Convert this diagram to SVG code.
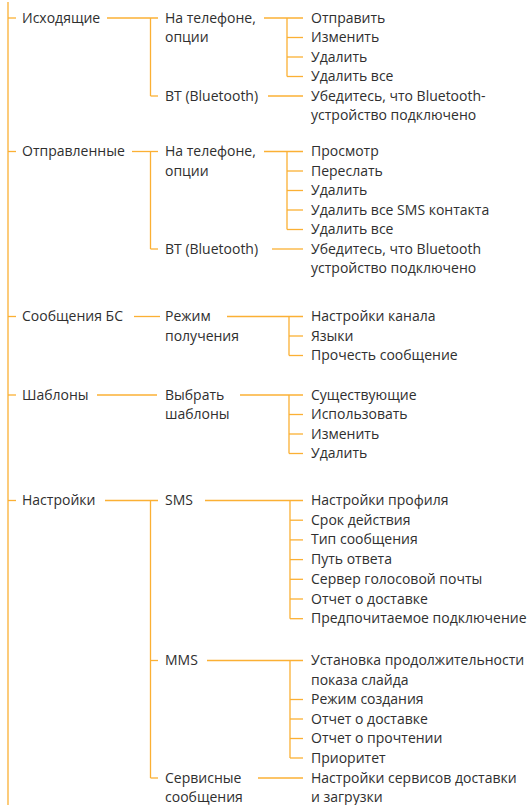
<svg xmlns="http://www.w3.org/2000/svg" width="531" height="805" viewBox="0 0 531 805">
<style>
.t{font-family:"Open Sans","Noto Sans","Liberation Sans",sans-serif;font-size:14px;fill:#2f2f2f}
.c line{stroke:#FBB034;stroke-width:1.3;fill:none}
</style>
<rect width="531" height="805" fill="#fff"/>
<g class="c" id="connectors">
<line x1="8" y1="2" x2="8" y2="805"/>
<line x1="8" y1="18" x2="16" y2="18"/>
<line x1="8" y1="151.5" x2="16" y2="151.5"/>
<line x1="8" y1="316.5" x2="16" y2="316.5"/>
<line x1="8" y1="395" x2="16" y2="395"/>
<line x1="8" y1="500.5" x2="16" y2="500.5"/>
<line x1="107" y1="18" x2="158" y2="18"/>
<line x1="150.5" y1="18" x2="150.5" y2="96"/>
<line x1="150.5" y1="96" x2="158" y2="96"/>
<line x1="264" y1="18" x2="303" y2="18"/>
<line x1="287" y1="18" x2="287" y2="76.5"/>
<line x1="287" y1="37.5" x2="303" y2="37.5"/>
<line x1="287" y1="57" x2="303" y2="57"/>
<line x1="287" y1="76.5" x2="303" y2="76.5"/>
<line x1="268" y1="96" x2="303" y2="96"/>
<line x1="132" y1="151.5" x2="158" y2="151.5"/>
<line x1="150.5" y1="151.5" x2="150.5" y2="249"/>
<line x1="150.5" y1="249" x2="158" y2="249"/>
<line x1="264" y1="151.5" x2="303" y2="151.5"/>
<line x1="287" y1="151.5" x2="287" y2="229.5"/>
<line x1="287" y1="171" x2="303" y2="171"/>
<line x1="287" y1="190.5" x2="303" y2="190.5"/>
<line x1="287" y1="210" x2="303" y2="210"/>
<line x1="287" y1="229.5" x2="303" y2="229.5"/>
<line x1="272" y1="249" x2="303" y2="249"/>
<line x1="134" y1="316.5" x2="160" y2="316.5"/>
<line x1="227" y1="316.5" x2="303" y2="316.5"/>
<line x1="289" y1="316.5" x2="289" y2="355.5"/>
<line x1="289" y1="336" x2="303" y2="336"/>
<line x1="289" y1="355.5" x2="303" y2="355.5"/>
<line x1="97" y1="395" x2="157" y2="395"/>
<line x1="240" y1="395" x2="303" y2="395"/>
<line x1="289" y1="395" x2="289" y2="453.5"/>
<line x1="289" y1="414.5" x2="303" y2="414.5"/>
<line x1="289" y1="434" x2="303" y2="434"/>
<line x1="289" y1="453.5" x2="303" y2="453.5"/>
<line x1="105" y1="500.5" x2="158" y2="500.5"/>
<line x1="150.5" y1="500.5" x2="150.5" y2="778"/>
<line x1="150.5" y1="660.5" x2="158" y2="660.5"/>
<line x1="150.5" y1="778" x2="158" y2="778"/>
<line x1="205" y1="500.5" x2="303" y2="500.5"/>
<line x1="290" y1="500.5" x2="290" y2="618.7"/>
<line x1="290" y1="520.2" x2="303" y2="520.2"/>
<line x1="290" y1="539.9" x2="303" y2="539.9"/>
<line x1="290" y1="559.6" x2="303" y2="559.6"/>
<line x1="290" y1="579.3" x2="303" y2="579.3"/>
<line x1="290" y1="599" x2="303" y2="599"/>
<line x1="290" y1="618.7" x2="303" y2="618.7"/>
<line x1="207" y1="660.5" x2="303" y2="660.5"/>
<line x1="290" y1="660.5" x2="290" y2="758"/>
<line x1="290" y1="699.5" x2="303" y2="699.5"/>
<line x1="290" y1="719" x2="303" y2="719"/>
<line x1="290" y1="738.5" x2="303" y2="738.5"/>
<line x1="290" y1="758" x2="303" y2="758"/>
<line x1="258" y1="778" x2="303" y2="778"/>
</g>
<g id="n-outbox"><text class="t" x="22" y="22.5">Исходящие</text></g>
<g id="n-outbox-phone"><text class="t" x="165" y="22.5">На телефоне,<tspan x="165" y="42">опции</tspan></text></g>
<g id="n-outbox-bt"><text class="t" x="165" y="100.5">BT (Bluetooth)</text></g>
<g id="n-outbox-send"><text class="t" x="311" y="22.5">Отправить</text></g>
<g id="n-outbox-edit"><text class="t" x="311" y="42">Изменить</text></g>
<g id="n-outbox-del"><text class="t" x="311" y="61.5">Удалить</text></g>
<g id="n-outbox-delall"><text class="t" x="311" y="81">Удалить все</text></g>
<g id="n-outbox-btinfo"><text class="t" x="311" y="100.5">Убедитесь, что Bluetooth-<tspan x="311" y="120">устройство подключено</tspan></text></g>

<g id="n-sent"><text class="t" x="22" y="156">Отправленные</text></g>
<g id="n-sent-phone"><text class="t" x="165" y="156">На телефоне,<tspan x="165" y="175.5">опции</tspan></text></g>
<g id="n-sent-bt"><text class="t" x="165" y="253.5">BT (Bluetooth)</text></g>
<g id="n-sent-view"><text class="t" x="311" y="156">Просмотр</text></g>
<g id="n-sent-fwd"><text class="t" x="311" y="175.5">Переслать</text></g>
<g id="n-sent-del"><text class="t" x="311" y="195">Удалить</text></g>
<g id="n-sent-delsms"><text class="t" x="311" y="214.5">Удалить все SMS контакта</text></g>
<g id="n-sent-delall"><text class="t" x="311" y="234">Удалить все</text></g>
<g id="n-sent-btinfo"><text class="t" x="311" y="253.5">Убедитесь, что Bluetooth<tspan x="311" y="273">устройство подключено</tspan></text></g>

<g id="n-cb"><text class="t" x="22" y="321">Сообщения БС</text></g>
<g id="n-cb-mode"><text class="t" x="165" y="321">Режим<tspan x="165" y="340.5">получения</tspan></text></g>
<g id="n-cb-chan"><text class="t" x="311" y="321">Настройки канала</text></g>
<g id="n-cb-lang"><text class="t" x="311" y="340.5">Языки</text></g>
<g id="n-cb-read"><text class="t" x="311" y="360">Прочесть сообщение</text></g>

<g id="n-tpl"><text class="t" x="22" y="399.5">Шаблоны</text></g>
<g id="n-tpl-sel"><text class="t" x="165" y="399.5">Выбрать<tspan x="165" y="419">шаблоны</tspan></text></g>
<g id="n-tpl-exist"><text class="t" x="311" y="399.5">Существующие</text></g>
<g id="n-tpl-use"><text class="t" x="311" y="419">Использовать</text></g>
<g id="n-tpl-edit"><text class="t" x="311" y="438.5">Изменить</text></g>
<g id="n-tpl-del"><text class="t" x="311" y="458">Удалить</text></g>

<g id="n-set"><text class="t" x="22" y="505">Настройки</text></g>
<g id="n-set-sms"><text class="t" x="165" y="505">SMS</text></g>
<g id="n-sms-prof"><text class="t" x="311" y="505">Настройки профиля</text></g>
<g id="n-sms-valid"><text class="t" x="311" y="524.7">Срок действия</text></g>
<g id="n-sms-type"><text class="t" x="311" y="544.4">Тип сообщения</text></g>
<g id="n-sms-reply"><text class="t" x="311" y="564.1">Путь ответа</text></g>
<g id="n-sms-vm"><text class="t" x="311" y="583.8">Сервер голосовой почты</text></g>
<g id="n-sms-dr"><text class="t" x="311" y="603.5">Отчет о доставке</text></g>
<g id="n-sms-conn"><text class="t" x="311" y="623.2">Предпочитаемое подключение</text></g>
<g id="n-set-mms"><text class="t" x="165" y="665">MMS</text></g>
<g id="n-mms-slide"><text class="t" x="311" y="665">Установка продолжительности<tspan x="311" y="684.5">показа слайда</tspan></text></g>
<g id="n-mms-mode"><text class="t" x="311" y="704">Режим создания</text></g>
<g id="n-mms-dr"><text class="t" x="311" y="723.5">Отчет о доставке</text></g>
<g id="n-mms-rr"><text class="t" x="311" y="743">Отчет о прочтении</text></g>
<g id="n-mms-prio"><text class="t" x="311" y="762.5">Приоритет</text></g>
<g id="n-set-svc"><text class="t" x="165" y="782.5">Сервисные<tspan x="165" y="802">сообщения</tspan></text></g>
<g id="n-svc-dl"><text class="t" x="311" y="782.5">Настройки сервисов доставки<tspan x="311" y="802">и загрузки</tspan></text></g>
</svg>
